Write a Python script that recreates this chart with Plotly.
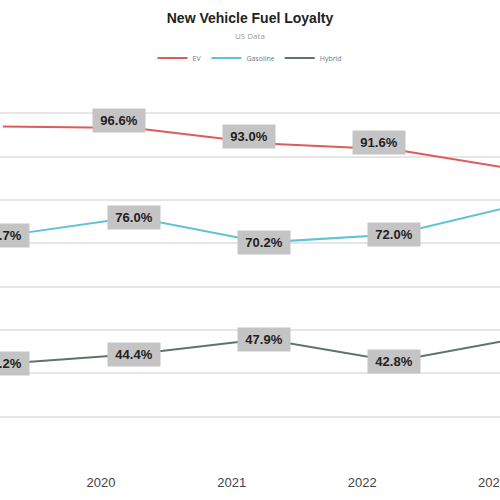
import plotly.graph_objects as go

# loyalty rate (%) by model year
years = [2019, 2020, 2021, 2022, 2023]
ev = [96.9, 96.6, 93.0, 91.6, 86.7]
gasoline = [71.7, 76.0, 70.2, 72.0, 79.2]
hybrid = [42.2, 44.4, 47.9, 42.8, 48.3]

ev_labels = ["", "96.6%", "93.0%", "91.6%", "86.7%"]
gas_labels = ["71.7%", "76.0%", "70.2%", "72.0%", "79.2%"]
hyb_labels = ["42.2%", "44.4%", "47.9%", "42.8%", "48.3%"]

# points sit a quarter into each year
x_dates = [f"{y}-04-01" for y in years]

fig = go.Figure()

series = [
    ("EV", ev, ev_labels, "#de5b5b", -15, 7),
    ("Gasoline", gasoline, gas_labels, "#5cc4d4", 0, 0),
    ("Hybrid", hybrid, hyb_labels, "#5d7566", 0, 0),
]

annotations = []
for name, vals, labels, color, xs, ys in series:
    fig.add_trace(go.Scatter(x=x_dates, y=vals, mode='lines', name=name,
        line=dict(color=color, width=2)))
    for x, v, t in zip(x_dates, vals, labels):
        if not t:
            continue
        annotations.append(dict(x=x, y=v, text=f"<b>{t}</b>", showarrow=False,
            xshift=xs, yshift=ys, width=44,
            font=dict(family="Liberation Sans", size=13, color="#222222"),
            bgcolor="#c4c4c4", borderpad=4))

# subtitle
annotations.append(dict(text="US Data", xref='paper', yref='paper', x=0.5, y=1.133,
    yanchor='middle', showarrow=False, font=dict(size=8, color="#999999")))

fig.update_layout(
    width=500, height=500,
    title=dict(text="<b>New Vehicle Fuel Loyalty</b>",
        x=0.5, xanchor='center', y=0.973, yanchor='top',
        font=dict(family="Liberation Sans", size=14, color="#222222")),
    legend=dict(orientation='h', x=0.5, xanchor='center', y=1.072, yanchor='middle',
        font=dict(size=7, color="#777777")),
    margin=dict(l=0, r=0, t=85, b=40, autoexpand=False),
    plot_bgcolor='white', paper_bgcolor='white',
    annotations=annotations,
    showlegend=True,
)
fig.update_xaxes(type='date', range=["2019-03-24", "2023-01-22"],
    dtick="M12", tick0="2020-01-01", tickformat="%Y", showgrid=False,
    ticklabeloverflow='allow', ticklabelstandoff=13,
    tickfont=dict(family="Liberation Sans", size=13, color="#444444"))
fig.update_yaxes(range=[20, 106.5], dtick=10, showticklabels=False,
    gridcolor="#e6e6e6", gridwidth=2, zeroline=False)

fig.write_html("out.html", config={'displayModeBar': False},
    post_script="document.body.style.margin='0';")
